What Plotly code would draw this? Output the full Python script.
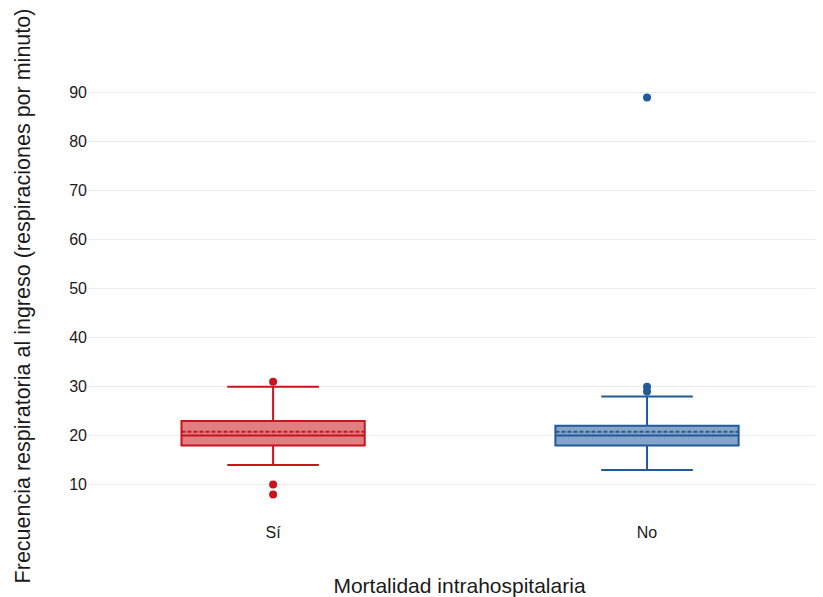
import plotly.graph_objects as go

categories = ["Sí", "No"]
q1 = [18, 18]
median = [20, 20]
q3 = [23, 22]
lowerfence = [14, 13]
upperfence = [30, 28]
means = [20.8, 20.8]
outliers_si = [31, 10, 8]
outliers_no = [89, 30, 29]

line_colors = ["#c8141c", "#215a9b"]
fill_colors = ["rgba(200,20,28,0.55)", "rgba(33,90,155,0.55)"]
outliers = [outliers_si, outliers_no]

fig = go.Figure()
for i, cat in enumerate(categories):
    fig.add_trace(go.Box(
        x=[cat], q1=[q1[i]], median=[median[i]], q3=[q3[i]],
        lowerfence=[lowerfence[i]], upperfence=[upperfence[i]], mean=[means[i]],
        boxmean=True, width=0.49, whiskerwidth=0.5,
        line=dict(color=line_colors[i], width=2),
        fillcolor=fill_colors[i], showlegend=False, boxpoints=False,
    ))
    fig.add_trace(go.Scatter(
        x=[cat] * len(outliers[i]), y=outliers[i], mode="markers",
        marker=dict(color=line_colors[i], size=8), showlegend=False,
    ))

fig.update_layout(
    width=823, height=597,
    margin=dict(l=80, r=0, t=70, b=91),
    paper_bgcolor="white", plot_bgcolor="white",
    font=dict(family="Liberation Sans, Arial, sans-serif", size=16, color="#1a1a1a"),
    xaxis=dict(
        type="category", range=[-0.495, 1.492], showgrid=False, zeroline=False,
        showline=False, ticks="outside", ticklen=4, tickcolor="rgba(0,0,0,0)",
        automargin=False,
        title=dict(text="Mortalidad intrahospitalaria", font=dict(size=21), standoff=38),
    ),
    yaxis=dict(
        range=[4, 93], tickvals=[10, 20, 30, 40, 50, 60, 70, 80, 90],
        showgrid=True, gridcolor="#ececec", gridwidth=1, zeroline=False, showline=False,
        ticks="", automargin=False,
        title=dict(text="Frecuencia respiratoria al ingreso (respiraciones por minuto)",
                   font=dict(size=21.5), standoff=32),
    ),
)

fig.write_html("out.html")
